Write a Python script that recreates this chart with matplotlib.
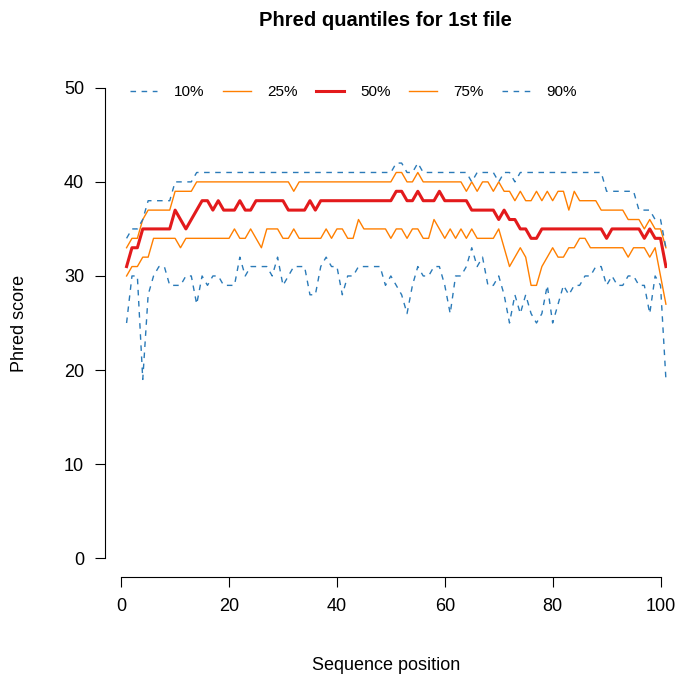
import matplotlib
matplotlib.use("Agg")
import matplotlib.pyplot as plt
import numpy as np

plt.rcParams['font.family'] = ['Liberation Sans', 'DejaVu Sans']

pos = np.arange(1, 102)
q10 = [25,30,30,19,28,30,31,31,29,29,29,30,30,27,30,29,30,30,29,29,29,32,30,31,31,31,31,30,32,29,
       30,31,31,31,28,28,31,32,31,31,28,30,30,31,31,31,31,31,29,30,29,28,26,29,31,30,30,31,31,29,
       26,30,30,31,33,31,32,29,29,30,28,25,28,26,28,26,25,26,29,25,27,29,28,29,29,30,30,31,31,29,
       30,29,29,30,30,29,29,26,30,29,19]
q25 = [30,31,31,32,32,34,34,34,34,34,33,34,34,34,34,34,34,34,34,34,35,34,34,35,34,33,35,35,35,34,
       34,35,34,34,34,34,34,35,34,35,35,34,34,36,35,35,35,35,35,34,35,35,34,35,35,34,34,36,35,34,
       35,34,35,34,35,34,34,34,34,35,33,31,32,33,32,29,29,31,32,33,32,32,33,33,34,34,33,33,33,33,
       33,33,33,32,33,33,33,32,33,30,27]
q50 = [31,33,33,35,35,35,35,35,35,37,36,35,36,37,38,38,37,38,37,37,37,38,37,37,38,38,38,38,38,38,
       37,37,37,37,38,37,38,38,38,38,38,38,38,38,38,38,38,38,38,38,39,39,38,38,39,38,38,38,39,38,
       38,38,38,38,37,37,37,37,37,36,37,36,36,35,35,34,34,35,35,35,35,35,35,35,35,35,35,35,35,34,
       35,35,35,35,35,35,34,35,34,34,31]
q75 = [33,34,34,36,37,37,37,37,37,39,39,39,39,40,40,40,40,40,40,40,40,40,40,40,40,40,40,40,40,40,
       40,39,40,40,40,40,40,40,40,40,40,40,40,40,40,40,40,40,40,40,41,41,40,40,41,40,40,40,40,40,
       40,40,40,39,40,39,40,40,39,40,39,39,38,39,38,38,39,38,39,38,39,39,37,39,38,38,38,38,37,37,
       37,37,37,36,36,36,35,36,35,35,33]
q90 = [34,35,35,36,38,38,38,38,38,40,40,40,40,41,41,41,41,41,41,41,41,41,41,41,41,41,41,41,41,41,
       41,41,41,41,41,41,41,41,41,41,41,41,41,41,41,41,41,41,41,41,42,42,41,41,42,41,41,41,41,41,
       41,41,41,41,40,41,41,41,41,40,41,41,40,41,41,41,41,41,41,41,41,41,41,41,41,41,41,41,41,39,
       39,39,39,39,39,37,37,37,36,36,33]
labels = ["10%", "25%", "50%", "75%", "90%"]

blue = "#2a7ab8"; orange = "#ff7f00"; red = "#e31a1c"
W, H = 678, 677
fig = plt.figure(figsize=(W/100, H/100), dpi=100)
ax = fig.add_axes([105/W, 1-577/H, (667-105)/W, (577-69)/H])
ax.plot(pos, q10, color=blue, ls=(0, (4, 4)), lw=1, label=labels[0])
ax.plot(pos, q25, color=orange, lw=1, label=labels[1])
ax.plot(pos, q50, color=red, lw=2.2, label=labels[2])
ax.plot(pos, q75, color=orange, lw=1, label=labels[3])
ax.plot(pos, q90, color=blue, ls=(0, (4, 4)), lw=1, label=labels[4])
ax.set_xlim(-3, 101.2)
ax.set_ylim(-2, 52)
for s in ["top", "right"]:
    ax.spines[s].set_visible(False)
ax.spines["left"].set_bounds(0, 50)
ax.spines["bottom"].set_bounds(0, 100)
ax.set_xticks([0, 20, 40, 60, 80, 100])
ax.set_yticks([0, 10, 20, 30, 40, 50])
ax.tick_params(direction="out", length=7, labelsize=13, pad=8)
ax.set_xlabel("Sequence position", fontsize=13, labelpad=30)
ax.set_ylabel("Phred score", fontsize=13, labelpad=26)
fig.text(385/W, 1-20/H, "Phred quantiles for 1st file", ha="center", va="center",
         fontsize=14.5, fontweight="bold")
ax.legend(loc="upper left", bbox_to_anchor=(0.02, 0.995), ncol=5, frameon=False,
          fontsize=11, handlelength=1.8, columnspacing=1.2, handletextpad=1.1)
fig.savefig("out.png", dpi=100)
